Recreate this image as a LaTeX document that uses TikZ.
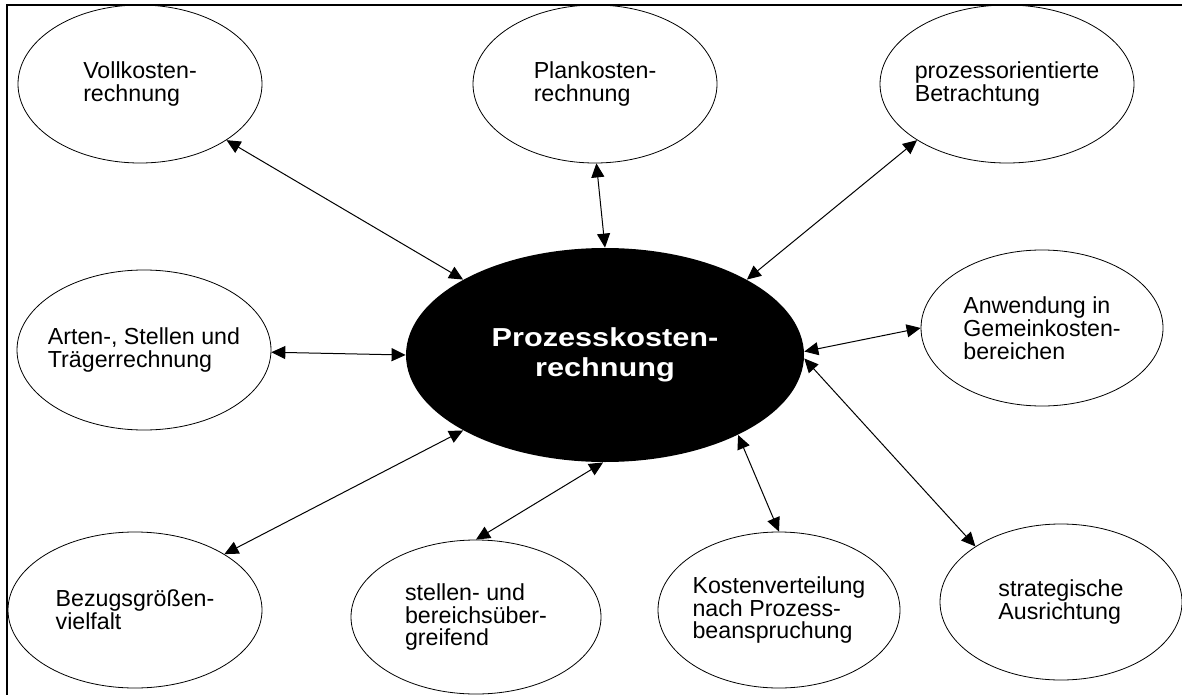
\documentclass[tikz,border=0pt]{standalone}
\usepackage{fontspec}
\setmainfont{Liberation Sans}
\newfontfamily\hubfont[FakeStretch=1.18]{Liberation Sans}
\usetikzlibrary{arrows.meta, positioning, shapes.geometric}

\begin{document}
\begin{tikzpicture}[
		x=0.5pt, y=-0.5pt,
		font=\fontsize{11.6pt}{11.4pt}\selectfont,
		bubble/.style={
			draw,
			ellipse,
			align=left,
			inner sep=-4pt,
			minimum width=122pt,
			minimum height=78pt
		},
		hub/.style={
			ellipse,
			fill=black,
			text=white,
			align=center,
			minimum width=199pt,
			minimum height=107pt,
			font=\hubfont\bfseries\fontsize{13pt}{15pt}\selectfont
		},
		arr/.style={{Triangle[length=7pt,width=6.5pt]}-{Triangle[length=7pt,width=6.5pt]}, line width=0.5pt}
		]
		
		\useasboundingbox (0,0) rectangle (1182,695);
		\draw[line width=1.1pt] (7,695) |- (1182,5);
		
		\node[hub] (pkr) at (605,355) {Prozesskosten-\\rechnung};
		
		\node[bubble, minimum height=79pt] (voll) at (140,84) {Vollkosten-\\rechnung};
		\node[bubble, minimum height=79pt] (plan) at (595,84) {Plankosten-\\rechnung};
		\node[bubble, minimum width=127pt, minimum height=79pt] (proz) at (1007,84) {prozessorientierte\\Betrachtung};
		\node[bubble, minimum width=127pt, minimum height=80pt] (arten) at (144,350) {Arten-, Stellen und\\Tr\"agerrechnung};
		\node[bubble, minimum width=121pt] (anw) at (1042,328) {Anwendung in\\Gemeinkosten-\\bereichen};
		\node[bubble, minimum width=127pt] (bez) at (135,610) {Bezugsgr\"o\ss en-\\vielfalt};
		\node[bubble, minimum width=125pt, minimum height=77pt] (stel) at (476,617) {stellen- und\\bereichs\"uber-\\greifend};
		\node[bubble, minimum width=121pt] (kost) at (779,610) {Kostenverteilung\\nach Prozess-\\beanspruchung};
		\node[bubble, minimum width=121pt] (strat) at (1061,602) {strategische\\Ausrichtung};
		
		\draw[arr] (voll.-33) -- (pkr.152);
		\draw[arr] (plan.-89) -- (pkr.90);
		\draw[arr] (proz.212) -- (pkr.28);
		\draw[arr] (arten.-1) -- (pkr.180);
		\draw[arr] (anw.180) -- (pkr.1);
		\draw[arr] (strat.147) -- (pkr.-1);
		\draw[arr] (kost.90) -- (pkr.-31);
		\draw[arr] (stel.90) -- (pkr.-91);
		\draw[arr] (bez.32) -- (pkr.208);
		
	\end{tikzpicture}
\end{document}
